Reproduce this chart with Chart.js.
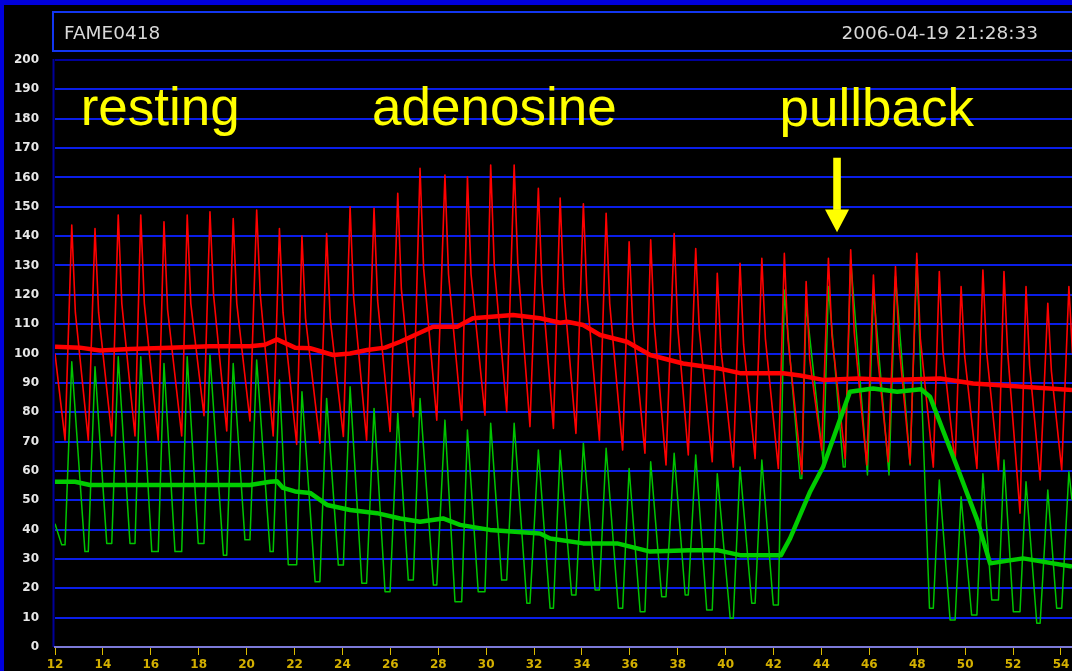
<!DOCTYPE html>
<html>
<head>
<meta charset="utf-8">
<script src="https://cdn.jsdelivr.net/npm/chart.js@4.4.0/dist/chart.umd.min.js"></script>
<style>
html,body{margin:0;padding:0;background:#000;overflow:hidden}
#wrap{position:relative;width:1072px;height:671px}
canvas{display:block}
</style>
</head>
<body>
<div id="wrap"><canvas id="c" width="1072" height="671"></canvas></div>
<script>
// ---------- data (time in s, pressure in mmHg) ----------
const recordId = 'FAME0418';
const recordStamp = '2006-04-19 21:28:33';
const phaseLabels = ['resting', 'adenosine', 'pullback'];

// beat systolic peak times
const beatPeakT = [12.70,13.67,14.64,15.58,16.55,17.52,18.47,19.44,20.42,21.37,
  22.31,23.34,24.32,25.32,26.31,27.24,28.28,29.22,30.19,31.17,
  32.18,33.09,34.06,35.01,35.97,36.87,37.85,38.75,39.65,40.60,
  41.51,42.45,43.36,44.29,45.22,46.17,47.09,47.98,48.92,49.83,
  50.74,51.62,52.54,53.45,54.33];

// aortic (red) waveform
const redSys = [143.8,142.6,147.2,147.2,144.9,147.2,148.3,146,148.9,142.6,
  140,140.9,150,149.5,154.6,163.1,160.8,160.2,164.2,164.2,
  156.3,153,151,147.8,138.1,138.7,140.9,135.8,127.3,130.7,
  132.4,134.1,124.5,132.4,135.3,126.7,129.6,134.1,127.9,122.8,
  128.4,127.9,122.8,117.1,122.8];
const redNotch = [114,114,117,117,115,117,120,117,120,114,
  112,112,119,118,122,129,127,127,130,131,
  124,122,120,117,110,110,109,108,102,103,
  105,105,98,106,107,101,103,105,101,99,
  101,101,96,94,100];
const redFootT = [12.42,13.39,14.37,15.34,16.31,17.29,18.22,19.17,20.14,21.11,
  22.09,23.06,24.04,25.01,25.99,26.96,27.94,28.98,29.95,30.86,
  31.83,32.81,33.75,34.73,35.70,36.63,37.51,38.44,39.44,40.32,
  41.23,42.20,43.18,44.01,44.99,45.89,46.79,47.70,48.67,49.58,
  50.49,51.39,52.29,53.13,54.03];
const redDia = [70.5,70.5,71.9,71.9,70.5,71.9,78.8,73.6,77,71.9,
  69,69.4,71.7,70.5,73.4,78.5,77.3,77.3,79,80.2,
  75.1,74.5,72.8,70.5,67.1,66,62,65.4,63.1,61.3,
  64.2,60.8,59,67.1,64.2,62,63.1,62.5,61.3,62.5,
  60.8,60.3,45.6,56.9,60.3];
const redEdge = [100, 110];   // value at left edge, value at right edge

// distal (green) waveform
const greenSys = [97.2,95.5,98.9,98.9,96.6,98.9,99.5,96.6,97.8,91,
  87,84.7,88.7,81.3,79.6,84.7,77.3,73.9,76.2,76.2,
  67.1,67,69.4,67.7,60.8,63.1,66,65.4,59,61.3,
  63.7,121.6,117,122.8,131.9,121.6,126.2,131.9,56.9,51.2,
  59,63.7,56.3,53.5,59.7];
const greenFootT = [12.28,13.25,14.16,15.13,16.04,17.01,17.98,19.03,19.93,20.98,
  21.74,22.86,23.83,24.81,25.78,26.75,27.80,28.70,29.67,30.65,
  31.70,32.67,33.57,34.55,35.52,36.43,37.33,38.31,39.21,40.19,
  41.09,41.99,43.11,44.08,44.91,45.92,46.82,47.70,48.51,49.37,
  50.27,51.11,52.01,52.99,53.82];
const greenDia = [34.8,32.5,35.3,35.3,32.5,32.5,35.3,31.3,36.5,32.5,
  28,22.2,27.9,21.7,18.8,22.8,21.1,15.4,18.8,22.8,
  14.9,13.2,17.7,19.4,13.2,12,17.1,17.7,12.6,9.8,
  14.9,14.3,57.4,62.5,61.3,58.6,58.6,62,13.2,9.2,
  10.9,16,12,8.1,13.2];
const greenEdge = [42, 50];

// running means
const redMeanT = [12.00,13.04,13.88,15.13,16.80,18.47,20.14,20.77,21.27,22.02,
  22.65,23.61,24.32,25.03,25.78,26.41,27.78,28.79,29.45,31.12,
  32.25,33.09,33.38,34.05,34.76,35.88,36.85,38.22,39.64,40.60,
  42.40,43.11,44.07,45.49,46.86,48.95,50.33,52.42,54.46];
const redMeanV = [102.3,102,101,101.5,102,102.5,102.5,103,104.8,102,
  101.8,99.5,100,101.2,102,104,109.1,109.1,112,113.1,
  112,110.5,110.8,109.7,106.3,104,99.5,96.6,95,93.3,
  93.3,92.5,91,91.5,91,91.5,89.8,88.7,87.6];
const greenMeanT = [12.00,12.84,13.46,15.97,20.14,20.98,21.27,21.52,22.02,22.65,
  23.36,24.32,25.44,26.41,27.24,28.20,28.91,30.16,32.25,32.67,
  34.05,35.47,36.85,38.51,39.64,40.60,42.31,42.69,43.53,44.07,
  45.19,46.15,47.16,48.16,48.53,49.66,50.50,51.04,52.42,54.46];
const greenMeanV = [56.3,56.3,55.2,55.2,55.2,56.3,56.5,54.2,53,52.5,
  48.4,46.7,45.6,43.8,42.7,43.8,41.6,39.9,38.7,37,
  35.3,35.3,32.5,33,33,31.3,31.3,37,53,61.4,
  87,88.1,87,87.8,85.3,61.4,43.3,28.5,30.2,27.4];

// axis ranges
const tMin = 12, tMax = 54.46, tStep = 2;
const pMin = 0, pMax = 200, pStep = 10;
const notchLag = 0.15;   // s after the systolic peak where the dicrotic shoulder sits

// ---------- build point lists ----------
function redPoints() {
  const pts = [{x: tMin, y: redEdge[0]}];
  for (let i = 0; i < beatPeakT.length; i++) {
    pts.push({x: redFootT[i], y: redDia[i]});
    pts.push({x: beatPeakT[i], y: redSys[i]});
    pts.push({x: beatPeakT[i] + notchLag, y: redNotch[i]});
  }
  pts.push({x: tMax, y: redEdge[1]});
  return pts;
}
function greenPoints() {
  const pts = [{x: tMin, y: greenEdge[0]}];
  for (let i = 0; i < beatPeakT.length; i++) {
    pts.push({x: greenFootT[i], y: greenDia[i]});
    const rise = Math.max(greenFootT[i], redFootT[i]);
    if (rise > greenFootT[i]) pts.push({x: rise, y: greenDia[i]});
    pts.push({x: beatPeakT[i], y: greenSys[i]});
  }
  pts.push({x: tMax, y: greenEdge[1]});
  return pts;
}
function pairs(t, v) { return t.map((x, i) => ({x: x, y: v[i]})); }

// ---------- decoration plugin ----------
const frame = {
  id: 'frame',
  beforeDraw(chart) {
    const c = chart.ctx;
    c.save();
    c.fillStyle = '#000';
    c.fillRect(0, 0, chart.width, chart.height);
    c.fillStyle = '#0000dc';
    c.fillRect(0, 0, chart.width, 5);
    c.fillRect(0, 0, 4, chart.height);
    // header box
    c.strokeStyle = '#1236f0';
    c.lineWidth = 2;
    c.strokeRect(53, 12, 1040, 39);
    c.font = '18.5px "DejaVu Sans"';
    c.fillStyle = '#d8d8d8';
    c.textBaseline = 'alphabetic';
    c.textAlign = 'left';
    c.fillText(recordId, 64, 39);
    c.textAlign = 'right';
    c.fillText(recordStamp, 1038, 39);
    // plot left border
    const a = chart.chartArea;
    c.strokeStyle = '#00009a';
    c.lineWidth = 2;
    c.beginPath();
    c.moveTo(a.left - 1.5, a.top - 1);
    c.lineTo(a.left - 1.5, a.bottom);
    c.stroke();
    c.restore();
  },
  afterDraw(chart) {
    const c = chart.ctx, xs = chart.scales.x, ys = chart.scales.y;
    c.save();
    c.fillStyle = '#ffff00';
    c.font = '53px "Liberation Sans", Arial, sans-serif';
    c.textBaseline = 'alphabetic';
    c.textAlign = 'left';
    const spots = [[13.07, 178], [25.24, 178], [42.25, 177.6]];
    phaseLabels.forEach((s, i) => c.fillText(s, xs.getPixelForValue(spots[i][0]), ys.getPixelForValue(spots[i][1])));
    // arrow
    const ax = xs.getPixelForValue(44.65);
    const yTop = ys.getPixelForValue(166.7), yNeck = ys.getPixelForValue(149.1), yTip = ys.getPixelForValue(141.3);
    c.fillRect(ax - 3.8, yTop, 7.6, yNeck - yTop + 0.5);
    c.beginPath();
    c.moveTo(ax - 12, yNeck);
    c.lineTo(ax + 12, yNeck);
    c.lineTo(ax, yTip);
    c.closePath();
    c.fill();
    c.restore();
  }
};

const tickFont = {family: '"DejaVu Sans"', size: 12, weight: 'bold'};

new Chart(document.getElementById('c').getContext('2d'), {
  type: 'line',
  data: {
    datasets: [
      {label: 'Pa mean', data: pairs(redMeanT, redMeanV), borderColor: '#ff0000', borderWidth: 4.5},
      {label: 'Pd mean', data: pairs(greenMeanT, greenMeanV), borderColor: '#00cc00', borderWidth: 4.5},
      {label: 'Pa', data: redPoints(), borderColor: '#ff0000', borderWidth: 1.6},
      {label: 'Pd', data: greenPoints(), borderColor: '#00c400', borderWidth: 1.5}
    ]
  },
  options: {
    responsive: false,
    animation: false,
    devicePixelRatio: 1,
    parsing: false,
    normalized: true,
    layout: {padding: {top: 60, left: 0, right: 0, bottom: 0}},
    plugins: {legend: {display: false}, tooltip: {enabled: false}},
    elements: {
      point: {radius: 0, hoverRadius: 0},
      line: {tension: 0, fill: false, borderJoinStyle: 'round'}
    },
    scales: {
      x: {
        type: 'linear', min: tMin, max: tMax,
        afterFit(s) { s.height = 24; s.paddingLeft = 0; s.paddingRight = 0; },
        grid: {display: true, drawOnChartArea: false, drawTicks: true, tickLength: 8, tickColor: '#dcbc00', tickWidth: 1},
        border: {display: true, color: '#7c7ad8', width: 2},
        ticks: {stepSize: tStep, includeBounds: false, autoSkip: false, maxRotation: 0, minRotation: 0,
                color: '#d4b000', font: tickFont, padding: 3}
      },
      y: {
        type: 'linear', min: pMin, max: pMax,
        afterFit(s) { s.width = 55; s.paddingTop = 0; s.paddingBottom = 0; },
        grid: {
          drawTicks: false, lineWidth: 2,
          color: (ctx) => ctx.tick.value === pMax ? '#00009a' : (ctx.tick.value === pMin ? '#7c7ad8' : '#0a1ee8')
        },
        border: {display: false},
        ticks: {stepSize: pStep, color: '#e8e8e8', font: tickFont, padding: 16}
      }
    }
  },
  plugins: [frame]
});
</script>
</body>
</html>
